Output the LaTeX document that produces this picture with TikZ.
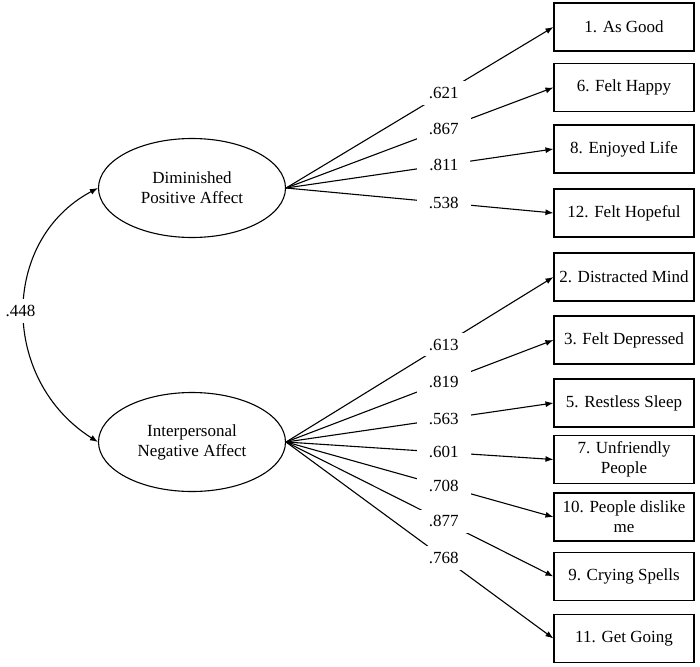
\documentclass[tikz,border=0pt]{standalone}
\usepackage{fontspec}
\setmainfont{Liberation Serif}
\usetikzlibrary{shapes.geometric,arrows.meta,positioning}

\begin{document}
\begin{tikzpicture}[x=1pt,y=-1pt,
    font=\fontsize{17}{20}\selectfont,
    latent/.style={draw, ellipse, line width=1.1pt, minimum width=187pt, minimum height=99pt, inner sep=0pt, align=center},
    item/.style={draw, rectangle, line width=1.1pt, minimum width=140pt, minimum height=48pt, inner sep=0pt, align=center},
    load/.style={fill=white, inner xsep=12pt, inner ysep=6pt},
    loading/.style={-{Latex[length=8pt,width=6pt]}, line width=1.1pt}]
       \useasboundingbox (0,0) rectangle (700,666);
       \node[latent] (dpa) at (192,188) {Diminished\\Positive Affect};
       \node[latent] (ipa) at (192,442) {Interpersonal\\Negative Affect};
        \foreach \y/\name/\txt in {27/asgood/{1. As Good}, 87.5/happy/{6. Felt Happy}, 149/enjoyed/{8. Enjoyed Life}, 213/hopeful/{12. Felt Hopeful}}{\node[item] (\name) at (624,\y) {\txt};}
        \foreach \y/\name/\txt in {277/distracted/{2. Distracted Mind}, 340/depressed/{3. Felt Depressed}, 403/sleep/{5. Restless Sleep}, 459.5/unfriendly/{7. Unfriendly\\People}, 517/dislike/{10. People dislike\\me}, 576.5/crying/{9. Crying Spells}, 638.5/going/{11. Get Going}}{\node[item] (\name) at (624,\y) {\txt};}
        \foreach \name/\val in {asgood/.621, happy/.867, enjoyed/.811, hopeful/.538}{\draw[loading] (dpa.east) -- node[load, pos=0.59] {\val} (\name.west);}
        \foreach \name/\val in {distracted/.613, depressed/.819, sleep/.563, unfriendly/.601, dislike/.708, crying/.877, going/.768}{\draw[loading] (ipa.east) -- node[load, pos=0.59] {\val} (\name.west);}
       \draw[{Latex[length=8pt,width=6pt]}-{Latex[length=8pt,width=6pt]}, line width=1.1pt] (dpa.west) .. controls (0,240) and (0,380) .. node[fill=white, inner xsep=1pt, inner ysep=6pt, xshift=-4pt] {.448} (ipa.west);
\end{tikzpicture}
\end{document}
